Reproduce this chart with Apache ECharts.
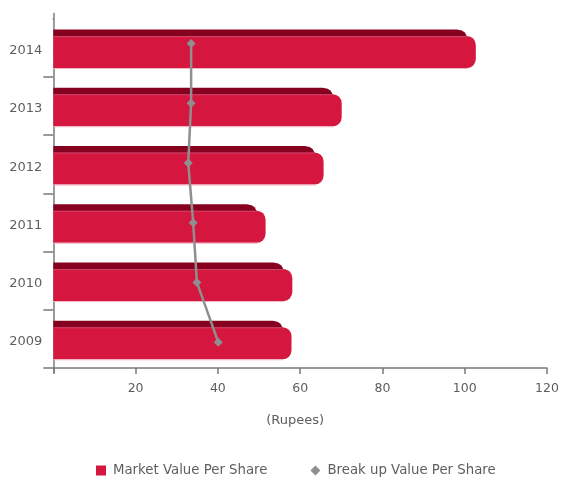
<!DOCTYPE html>
<html>
<head>
<meta charset="utf-8">
<script src="https://cdn.jsdelivr.net/npm/echarts@6/dist/echarts.min.js"></script>
<style>html,body{margin:0;padding:0;background:#fff;}#c{width:571px;height:481px;}</style>
</head>
<body>
<div id="c"></div>
<script>
const categories = ['2009', '2010', '2011', '2012', '2013', '2014'];
const marketValue = [57.9, 58.1, 51.6, 65.7, 70.1, 102.7];
const breakupValue = [40.1, 34.9, 34.0, 32.8, 33.5, 33.5];
const xTicks = [0, 20, 40, 60, 80, 100, 120];

const RED = '#D5163F';
const DARK = '#86001F';
const GRAY_LINE = '#8f8f8f';
const AXIS = '#7a7a7a';
const TEXT = '#5e5e5e';
const FONT = 'DejaVu Sans';

const chart = echarts.init(document.getElementById('c'));

function renderBar(params, api) {
  const v = api.value(0), c = api.value(1);
  const p0 = api.coord([0, c]);
  const p1 = api.coord([v, c]);
  const band = api.size([0, 1])[1];
  const yStart = p0[1] - band / 2;
  const dT = yStart + band * 0.19;
  const rT = yStart + band * 0.30;
  const rB = yStart + band * 0.85;
  const x0 = p0[0], x1 = p1[0];
  return {
    type: 'group',
    children: [
      { type: 'polygon', shape: { points: [[x0, dT], [x1 - 19, dT], [x1 - 14, dT + 1], [x1 - 11, dT + 3], [x1 - 8.5, rT + 1], [x0, rT + 1]] }, style: { fill: DARK } },
      { type: 'rect', shape: { x: x0, y: rT, width: x1 - x0, height: rB - rT, r: [0, 9, 9, 0] }, style: { fill: RED } },
      { type: 'rect', shape: { x: x0, y: rT, width: x1 - x0 - 9, height: 1 }, style: { fill: '#c9496b' } },
      { type: 'rect', shape: { x: x0, y: rB, width: x1 - x0 - 8, height: 1 }, style: { fill: '#f3b3c2' } }
    ]
  };
}

const option = {
  animation: false,
  textStyle: { fontFamily: FONT },
  grid: [
    { left: 53.3, right: 24, top: 18.5, height: 349.5 },
    { left: 53.3, right: 24, top: 13.5, height: 358.5 }
  ],
  xAxis: [
    {
      gridIndex: 0, type: 'value', min: xTicks[0], max: xTicks[xTicks.length - 1], interval: 20,
      axisLine: { show: true, lineStyle: { color: AXIS, width: 1.5 } },
      axisTick: { show: true, length: 6, lineStyle: { color: AXIS, width: 1.5 } },
      splitLine: { show: false },
      axisLabel: { color: TEXT, fontSize: 12.5, fontFamily: FONT, margin: 14, formatter: v => (v === 0 ? '' : String(v)) },
      name: '(Rupees)', nameLocation: 'middle', nameGap: 46,
      nameTextStyle: { color: TEXT, fontSize: 13, fontFamily: FONT, padding: [0, 10, 0, 0] }
    },
    {
      gridIndex: 1, type: 'value', min: 0, max: 120, show: false
    }
  ],
  yAxis: [
    {
      gridIndex: 0, type: 'category', data: categories,
      axisLine: { show: false },
      axisTick: { show: true, length: 10, lineStyle: { color: AXIS, width: 1.5 } },
      axisLabel: { color: TEXT, fontSize: 13, fontFamily: FONT, margin: 11, verticalAlign: 'top', lineHeight: 14, padding: [-4, 0, 0, 0] },
      splitLine: { show: false }
    },
    {
      gridIndex: 1, type: 'category', data: categories,
      axisLine: { show: true, lineStyle: { color: AXIS, width: 1.5 } },
      axisTick: { show: false },
      axisLabel: { show: false },
      splitLine: { show: false }
    }
  ],
  legend: {
    left: 91, top: 459, itemGap: 43, itemWidth: 10, itemHeight: 10,
    textStyle: { color: TEXT, fontSize: 13.3, fontFamily: FONT, padding: [0, 0, 0, 2] },
    data: [
      { name: 'Market Value Per Share', icon: 'rect' },
      { name: 'Break up Value Per Share', icon: 'diamond', itemStyle: { color: GRAY_LINE } }
    ]
  },
  graphic: [
    { type: 'rect', z: 100, shape: { x: 38, y: 14, width: 14.5, height: 9 }, style: { fill: '#fff' } }
  ],
  series: [
    {
      name: 'Market Value Per Share', type: 'custom', xAxisIndex: 0, yAxisIndex: 0,
      renderItem: renderBar, itemStyle: { color: RED },
      encode: { x: 0, y: 1 },
      data: marketValue.map((v, i) => [v, i]), z: 2
    },
    {
      name: 'Break up Value Per Share', type: 'line', xAxisIndex: 1, yAxisIndex: 1,
      data: breakupValue.map((v, i) => [v, categories[i]]),
      symbol: 'diamond', symbolSize: 9, showSymbol: true,
      lineStyle: { color: GRAY_LINE, width: 2.5 },
      itemStyle: { color: GRAY_LINE },
      z: 5
    }
  ]
};
chart.setOption(option);
</script>
</body>
</html>
